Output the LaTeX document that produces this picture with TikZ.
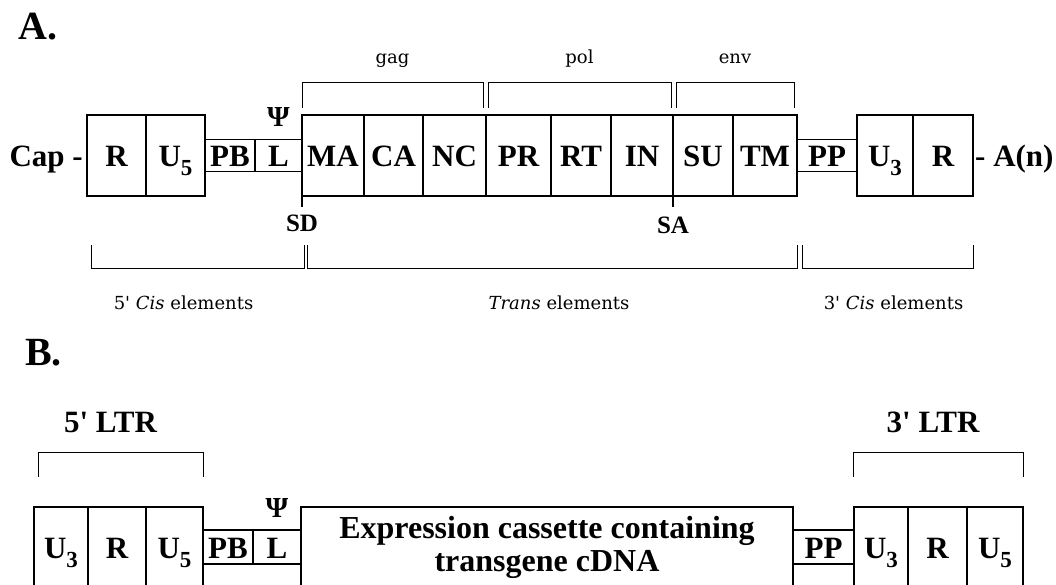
\documentclass[tikz,border=0pt]{standalone}
\usepackage{fontspec}
\setmainfont{Liberation Serif}
\newfontfamily\lblfamily{DejaVu Serif}
\usetikzlibrary{positioning}

\newcommand{\boxfont}{\fontsize{31}{33}\selectfont\bfseries}
\newcommand{\cassfont}{\fontsize{32}{33}\selectfont\bfseries}
\newcommand{\tagfont}{\fontsize{25}{27}\selectfont\bfseries}
\newcommand{\psifont}{\fontsize{29}{30}\selectfont\bfseries}
\newcommand{\headfont}{\fontsize{40}{42}\selectfont\bfseries}
\newcommand{\lblfont}{\lblfamily\fontsize{18}{20}\selectfont}
\newcommand{\lowidx}[1]{\raisebox{-9pt}{\fontsize{23}{23}\selectfont #1}}

\tikzset{
  gene/.style={draw, line width=1.6pt, inner sep=0pt, outer sep=0pt, font=\boxfont, text height=22pt, text depth=0pt},
  bigA/.style={gene, minimum height=81pt},
  smallA/.style={gene, minimum height=32pt},
  bigB/.style={gene, minimum height=80pt},
  smallB/.style={gene, minimum height=34pt},
  brk/.style={line width=0.8pt},
  lbl/.style={inner sep=0pt, font=\lblfont, text height=13pt, text depth=4pt},
  tag/.style={inner sep=0pt, font=\tagfont, text height=17pt, text depth=0pt},
  plain/.style={inner sep=0pt, font=\boxfont, text height=22pt, text depth=0pt},
  psi/.style={inner sep=0pt, font=\psifont, text depth=0pt},
}

\begin{document}
\begin{tikzpicture}[x=1pt,y=-1pt]
\useasboundingbox (0,0) rectangle (1056,585);
\clip (0,0) rectangle (1056,585);

% panel A
\node[anchor=base west, inner sep=0pt, font=\headfont] (hA) at (18,40) {A.};
\node[bigA, minimum width=59pt, anchor=north west] (aR5) at (87,115) {R};
\node[bigA, minimum width=59pt, right=0pt of aR5] (aU5) {U\lowidx{5}};
\node[smallA, minimum width=50pt, right=0pt of aU5] (aPB) {PB};
\node[smallA, minimum width=47pt, right=0pt of aPB] (aL) {L};
\node[bigA, minimum width=62pt, right=0pt of aL] (aMA) {MA};
\node[bigA, minimum width=59pt, right=0pt of aMA] (aCA) {CA};
\node[bigA, minimum width=63pt, right=0pt of aCA] (aNC) {NC};
\node[bigA, minimum width=65pt, right=0pt of aNC] (aPR) {PR};
\node[bigA, minimum width=60pt, right=0pt of aPR] (aRT) {RT};
\node[bigA, minimum width=62pt, right=0pt of aRT] (aIN) {IN};
\node[bigA, minimum width=60pt, right=0pt of aIN] (aSU) {SU};
\node[bigA, minimum width=64pt, right=0pt of aSU] (aTM) {TM};
\node[smallA, minimum width=60pt, right=0pt of aTM] (aPP) {PP};
\node[bigA, minimum width=56pt, right=0pt of aPP] (aU3) {U\lowidx{3}};
\node[bigA, minimum width=60pt, right=0pt of aU3] (aR3) {R};
% ends
\node[plain, left=4pt of aR5] (cap) {Cap -};
\node[plain, right=2pt of aR3] (polyA) {- A(n)};
\node[psi, anchor=south] (psiA) at ([yshift=13pt]aL.north) {Ψ};
% splice sites
\draw[line width=1.6pt] (aMA.south west) -- ++(0,11) node[tag, below=7pt] (sd) {SD};
\draw[line width=1.6pt] (aSU.south west) -- ++(0,11) node[tag, below=9pt] (sa) {SA};
% gene brackets
\draw[brk] ([yshift=7pt]aMA.north west) -- ([yshift=33pt]aMA.north west)
  -- node[lbl, above=14pt] (gag) {gag} ([xshift=-3pt,yshift=33pt]aNC.north east) -- ([xshift=-3pt,yshift=7pt]aNC.north east);
\draw[brk] ([xshift=2pt,yshift=7pt]aPR.north west) -- ([xshift=2pt,yshift=33pt]aPR.north west)
  -- node[lbl, above=14pt] (pol) {pol} ([xshift=-2pt,yshift=33pt]aIN.north east) -- ([xshift=-2pt,yshift=7pt]aIN.north east);
\draw[brk] ([xshift=3pt,yshift=7pt]aSU.north west) -- ([xshift=3pt,yshift=33pt]aSU.north west)
  -- node[lbl, above=14pt] (env) {env} ([xshift=-3pt,yshift=33pt]aTM.north east) -- ([xshift=-3pt,yshift=7pt]aTM.north east);
% element brackets
\draw[brk] ([xshift=4pt,yshift=-49pt]aR5.south west) -- ([xshift=4pt,yshift=-72pt]aR5.south west)
  -- node[lbl, below=28pt, xshift=-14pt] (cis5) {5\textquotesingle{} \textit{Cis} elements} ([xshift=2pt,yshift=-72pt]aMA.south west) -- ([xshift=2pt,yshift=-49pt]aMA.south west);
\draw[brk] ([xshift=5pt,yshift=-49pt]aMA.south west) -- ([xshift=5pt,yshift=-72pt]aMA.south west)
  -- node[lbl, below=28pt, xshift=7pt] (trans) {\textit{Trans} elements} ([yshift=-72pt]aTM.south east) -- ([yshift=-49pt]aTM.south east);
\draw[brk] ([xshift=5pt,yshift=-49pt]aTM.south east) -- ([xshift=5pt,yshift=-72pt]aTM.south east)
  -- node[lbl, below=28pt, xshift=6pt] (cis3) {3\textquotesingle{} \textit{Cis} elements} ([yshift=-72pt]aR3.south east) -- ([yshift=-49pt]aR3.south east);

% panel B
\node[anchor=base west, inner sep=0pt, font=\headfont] (hB) at (25,365) {B.};
\node[bigB, minimum width=54pt, anchor=north west] (bU3) at (34,507) {U\lowidx{3}};
\node[bigB, minimum width=58pt, right=0pt of bU3] (bR5) {R};
\node[bigB, minimum width=57pt, right=0pt of bR5] (bU5) {U\lowidx{5}};
\node[smallB, minimum width=50pt, right=0pt of bU5] (bPB) {PB};
\node[smallB, minimum width=48pt, right=0pt of bPB] (bL) {L};
\node[draw, line width=1.6pt, inner sep=0pt, outer sep=0pt, minimum width=492pt, minimum height=80pt,
  align=center, font=\cassfont, right=0pt of bL] (bExp) {Expression cassette containing\\transgene cDNA};
\node[smallB, minimum width=61pt, right=0pt of bExp] (bPP) {PP};
\node[bigB, minimum width=54pt, right=0pt of bPP] (bU3r) {U\lowidx{3}};
\node[bigB, minimum width=59pt, right=0pt of bU3r] (bR3) {R};
\node[bigB, minimum width=56pt, right=0pt of bR3] (bU5r) {U\lowidx{5}};
\node[psi, anchor=south] (psiB) at ([yshift=12pt]bL.north) {Ψ};
% LTR brackets
\draw[brk] ([xshift=4pt,yshift=30pt]bU3.north west) -- ([xshift=4pt,yshift=55pt]bU3.north west)
  -- node[plain, above=19pt, xshift=-10pt] (ltr5) {5\textquotesingle{} LTR} ([yshift=55pt]bU5.north east) -- ([yshift=30pt]bU5.north east);
\draw[brk] ([xshift=-1pt,yshift=30pt]bU3r.north west) -- ([xshift=-1pt,yshift=55pt]bU3r.north west)
  -- node[plain, above=19pt, xshift=-5pt] (ltr3) {3\textquotesingle{} LTR} ([yshift=55pt]bU5r.north east) -- ([yshift=30pt]bU5r.north east);
\end{tikzpicture}
\end{document}
